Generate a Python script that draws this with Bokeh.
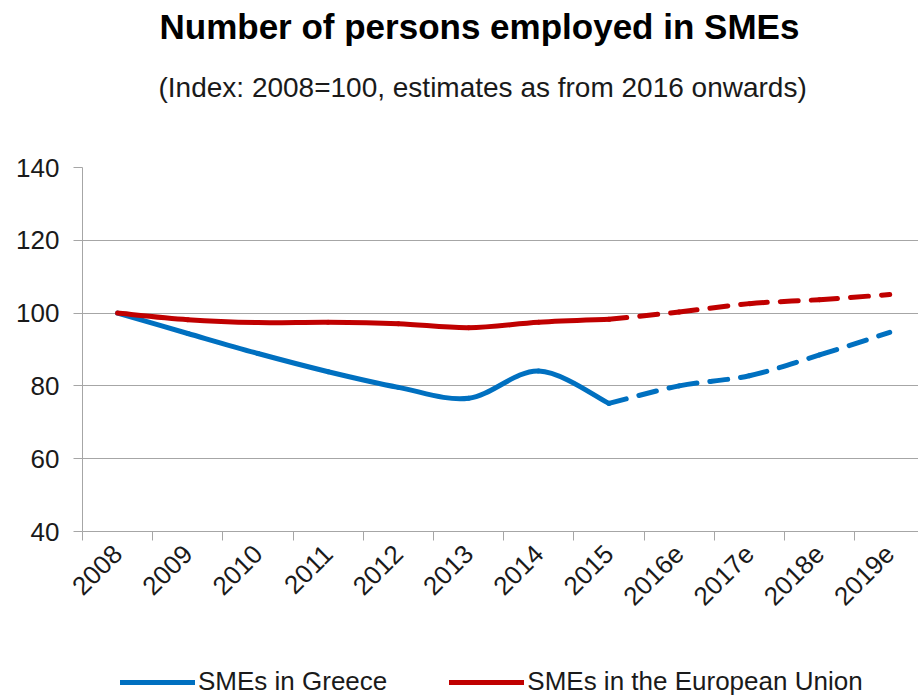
import numpy as np
from bokeh.plotting import figure
from bokeh.layouts import column
from bokeh.models import Range1d, FixedTicker, Title, Legend, LegendItem
from bokeh.embed import file_html
from bokeh.resources import INLINE

# ---------------- data ----------------
years = ["2008", "2009", "2010", "2011", "2012", "2013", "2014", "2015",
         "2016e", "2017e", "2018e", "2019e"]
greece = [100.0, 94.4, 88.9, 83.9, 79.6, 76.6, 84.1, 75.2, 80.0, 82.8, 88.5, 94.7]
eu = [100.0, 98.2, 97.4, 97.5, 97.1, 96.0, 97.5, 98.3, 100.3, 102.6, 103.7, 105.1]
last_actual = "2015"          # estimates start after this year
y_ticks = [40, 60, 80, 100, 120, 140]
series_names = ["SMEs in Greece", "SMEs in the European Union"]

BLUE = "#0070C0"
RED = "#C00000"
GRAY = "#A6A6A6"
FONT = "Liberation Sans"

xc = [i + 0.5 for i in range(len(years))]
split = years.index(last_actual)


def bezier_cols(xs, ys):
    """Control points of a smoothed (Catmull-Rom style) curve through the data."""
    xs = np.asarray(xs, float)
    ys = np.asarray(ys, float)
    n = len(xs)
    px = np.concatenate([[xs[0]], xs, [xs[-1]]])
    py = np.concatenate([[ys[0]], ys, [ys[-1]]])
    i = np.arange(n - 1)
    return dict(
        x0=xs[:-1], y0=ys[:-1], x1=xs[1:], y1=ys[1:],
        cx0=xs[i] + (px[i + 2] - px[i]) / 6.0,
        cy0=ys[i] + (py[i + 2] - py[i]) / 6.0,
        cx1=xs[i + 1] - (px[i + 3] - px[i + 1]) / 6.0,
        cy1=ys[i + 1] - (py[i + 3] - py[i + 1]) / 6.0,
    )


p = figure(frame_width=836, frame_height=364, output_backend="svg",
           toolbar_location=None, title=None,
           x_range=Range1d(0, 11.91), y_range=Range1d(40, 140),
           min_border_left=82, min_border_right=0, min_border_top=0,
           min_border_bottom=109)
p.outline_line_color = None

# spacer between subtitle and plot area, then subtitle, then title
p.add_layout(Title(text=" ", text_font_size="20px", standoff=21), "above")
p.add_layout(Title(text="(Index: 2008=100, estimates  as from 2016 onwards)",
                   align="left", offset=76, text_font=FONT,
                   text_font_style="normal", text_font_size="28px",
                   text_color="#1a1a1a", standoff=40), "above")
p.add_layout(Title(text="Number of persons employed in SMEs", align="left",
                   offset=77, text_font=FONT, text_font_style="bold",
                   text_font_size="35px", text_color="black", standoff=8), "above")

for vals, color in [(greece, BLUE), (eu, RED)]:
    solid = bezier_cols(xc[:split + 1], vals[:split + 1])
    dashed = bezier_cols(xc[split:], vals[split:])
    p.bezier(source=solid, x0="x0", y0="y0", x1="x1", y1="y1",
             cx0="cx0", cy0="cy0", cx1="cx1", cy1="cy1",
             line_color=color, line_width=5, line_cap="round")
    p.bezier(source=dashed, x0="x0", y0="y0", x1="x1", y1="y1",
             cx0="cx0", cy0="cy0", cx1="cx1", cy1="cy1",
             line_color=color, line_width=5, line_cap="round",
             line_dash="18 13")

xa = p.xaxis[0]
xa.ticker = FixedTicker(ticks=xc, minor_ticks=list(range(len(years) + 1)))
xa.major_label_overrides = {x: y for x, y in zip(xc, years)}
xa.major_label_orientation = np.pi / 4
xa.major_tick_out = 0
xa.major_tick_in = 0
xa.minor_tick_out = 9
xa.minor_tick_in = 0
xa.minor_tick_line_color = GRAY
xa.axis_line_color = GRAY
xa.major_label_text_font = FONT
xa.major_label_text_font_size = "26px"
xa.major_label_text_color = "#1a1a1a"
xa.major_label_standoff = 9

ya = p.yaxis[0]
ya.ticker = FixedTicker(ticks=y_ticks, minor_ticks=[])
ya.major_tick_out = 9
ya.major_tick_in = 0
ya.major_tick_line_color = GRAY
ya.axis_line_color = GRAY
ya.major_label_text_font = FONT
ya.major_label_text_font_size = "26px"
ya.major_label_text_color = "#1a1a1a"
ya.major_label_standoff = 14

p.xgrid.visible = False
p.ygrid.ticker = FixedTicker(ticks=y_ticks)
p.ygrid.grid_line_color = GRAY
p.ygrid.grid_line_width = 1

# ---- legend strip (separate figure below the chart) ----
lg = figure(width=918, height=60, output_backend="svg", toolbar_location=None,
            x_range=Range1d(0, 1), y_range=Range1d(0, 1),
            x_axis_location=None, y_axis_location=None,
            min_border_left=0, min_border_right=0, min_border_top=0,
            min_border_bottom=0)
lg.outline_line_color = None
lg.xgrid.visible = False
lg.ygrid.visible = False
# legend proxies: one NaN point each, so nothing is drawn in the strip itself
proxies = [lg.line(x=[np.nan], y=[np.nan], line_color=c, line_width=5,
                   line_cap="round")
           for c in (BLUE, RED)]
legend = Legend(items=[LegendItem(label=n, renderers=[r])
                       for n, r in zip(series_names, proxies)],
                orientation="horizontal", location=(38, 3),
                border_line_color=None, background_fill_alpha=0,
                label_text_font=FONT, label_text_font_size="26px",
                label_text_color="#1a1a1a",
                glyph_width=75, glyph_height=30, label_standoff=3, spacing=62,
                padding=0, margin=0)
lg.add_layout(legend, "center")

layout = column(p, lg, spacing=0)
open("out.html", "w").write(file_html(layout, INLINE))
